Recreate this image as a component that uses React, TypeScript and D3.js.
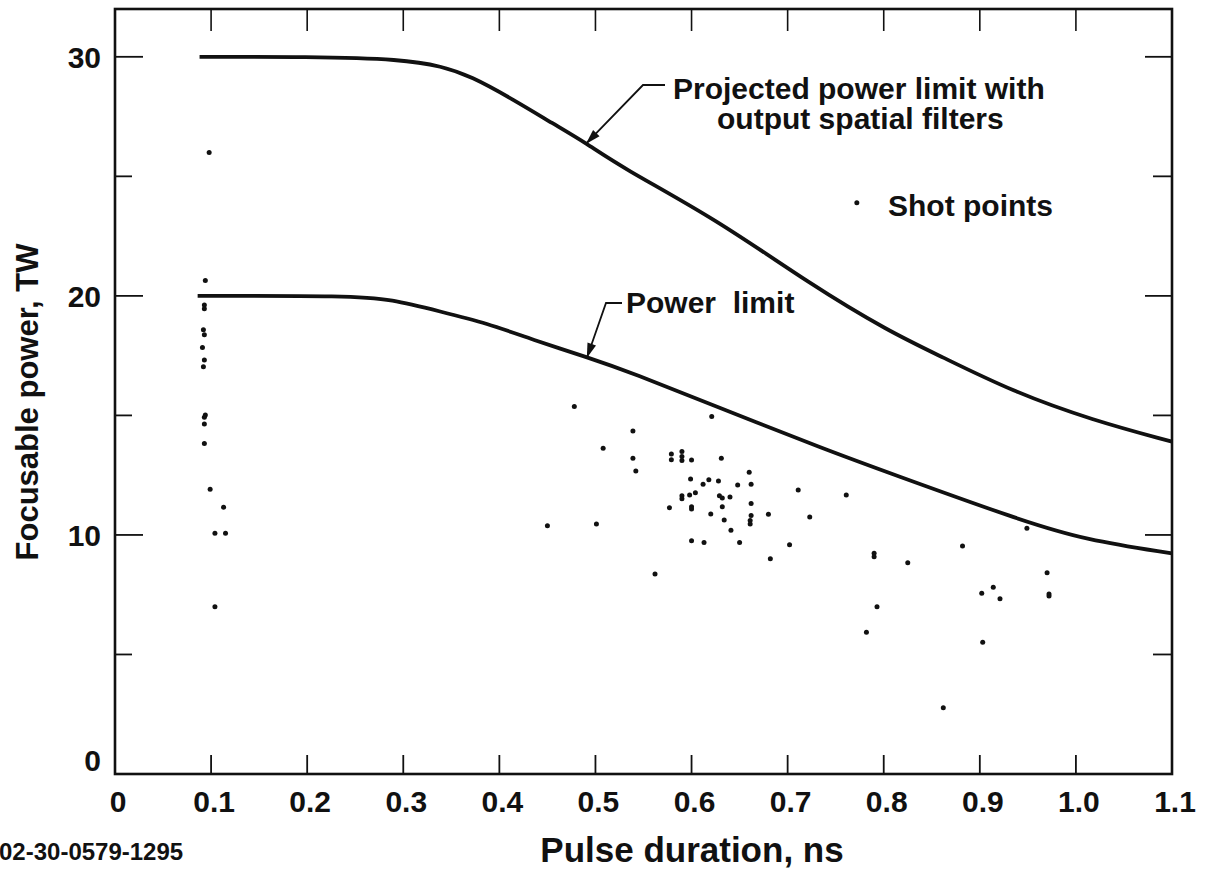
import React from "react";
import * as d3 from "d3";

// ---- data ----
const xTickValues = [0, 0.1, 0.2, 0.3, 0.4, 0.5, 0.6, 0.7, 0.8, 0.9, 1.0, 1.1];
const xTickLabels = ["0", "0.1", "0.2", "0.3", "0.4", "0.5", "0.6", "0.7", "0.8", "0.9", "1.0", "1.1"];
const yMajorTicks = [0, 10, 20, 30];
const yMajorLabels = ["0", "10", "20", "30"];
const yMinorTicks = [5, 15, 25];

// Projected power limit with output spatial filters
const upperX = [0.088, 0.2, 0.3, 0.34, 0.37, 0.415, 0.456, 0.49, 0.526, 0.626, 0.723, 0.806, 0.858, 0.934, 1.017, 1.1];
const upperY = [30, 30, 29.9, 29.6, 29.2, 28.2, 27.2, 26.4, 25.4, 23.2, 20.5, 18.5, 17.5, 16.0, 14.8, 13.9];

// Power limit
const lowerX = [0.086, 0.245, 0.287, 0.339, 0.387, 0.435, 0.491, 0.539, 0.626, 0.74, 0.806, 0.941, 1.01, 1.1];
const lowerY = [20, 20, 19.86, 19.34, 18.86, 18.16, 17.44, 16.77, 15.37, 13.56, 12.59, 10.63, 9.79, 9.23];

// Shot points
const shotX = [
  0.098, 0.094, 0.093, 0.093, 0.092, 0.093, 0.091, 0.093, 0.092, 0.094, 0.093, 0.093, 0.093, 0.099, 0.113, 0.104, 0.115, 0.104,
  0.478, 0.539, 0.508, 0.539, 0.542, 0.621, 0.579, 0.579, 0.59, 0.59, 0.59, 0.6, 0.631, 0.599, 0.612, 0.618, 0.628, 0.648,
  0.59, 0.59, 0.598, 0.604, 0.629, 0.632, 0.64, 0.577, 0.6, 0.6, 0.632, 0.62, 0.634, 0.641, 0.6, 0.613, 0.65, 0.45, 0.501, 0.562,
  0.66, 0.662, 0.662, 0.662, 0.661, 0.661, 0.68, 0.711, 0.761, 0.723, 0.702, 0.682, 0.79, 0.79, 0.825, 0.882, 0.949, 0.793,
  0.782, 0.903, 0.97, 0.902, 0.914, 0.921, 0.972, 0.972, 0.862,
];
const shotY = [
  26.0, 20.64, 19.62, 19.46, 18.58, 18.37, 17.84, 17.32, 17.04, 15.02, 14.92, 14.64, 13.82, 11.91, 11.16, 10.07, 10.07, 7.0,
  15.37, 14.35, 13.63, 13.21, 12.67, 14.95, 13.39, 13.14, 13.49, 13.28, 13.11, 13.13, 13.21, 12.34, 12.12, 12.31, 12.26, 12.09,
  11.64, 11.51, 11.67, 11.76, 11.64, 11.54, 11.59, 11.14, 11.18, 11.09, 11.18, 10.88, 10.63, 10.2, 9.76, 9.68, 9.68, 10.38, 10.46, 8.37,
  12.62, 12.12, 11.31, 10.81, 10.6, 10.46, 10.87, 11.88, 11.67, 10.75, 9.59, 9.0, 9.23, 9.09, 8.84, 9.54, 10.28, 7.0,
  5.93, 5.51, 8.42, 7.56, 7.81, 7.33, 7.53, 7.45, 2.77,
];

const W = 1206;
const H = 882;
const FONT = "'Liberation Sans', Arial, Helvetica, sans-serif";
const INK = "#111";

export default function App() {
  const x = d3.scaleLinear().domain([0, 1.1]).range([115, 1172]);
  const y = d3.scaleLinear().domain([0, 32]).range([774, 9]);

  const line = d3
    .line<[number, number]>()
    .x((d) => x(d[0]))
    .y((d) => y(d[1]))
    .curve(d3.curveBasis);

  const upper = upperX.map((v, i) => [v, upperY[i]] as [number, number]);
  const lower = lowerX.map((v, i) => [v, lowerY[i]] as [number, number]);

  const innerX = xTickValues.filter((v) => v > 0 && v < 1.1);

  const arrowHead = (tx: number, ty: number, fx: number, fy: number) => {
    const ang = Math.atan2(ty - fy, tx - fx);
    const len = 15;
    const half = 4.5;
    const bx = tx - len * Math.cos(ang);
    const by = ty - len * Math.sin(ang);
    const px = -Math.sin(ang) * half;
    const py = Math.cos(ang) * half;
    return `M${tx},${ty}L${bx + px},${by + py}L${bx - px},${by - py}Z`;
  };

  const projTip = [x(0.49), y(26.4) + 1];
  const projKnee = [643, 85];
  const powTip = [x(0.491), y(17.44) + 1];
  const powKnee = [606, 303];

  return (
    <svg
      width={W}
      height={H}
      viewBox={`0 0 ${W} ${H}`}
      style={{ position: "absolute", left: 0, top: 0, background: "#fff" }}
      fontFamily={FONT}
      fontWeight="bold"
    >
      <rect x={0} y={0} width={W} height={H} fill="#fff" />
      {/* frame */}
      <rect
        x={x(0)}
        y={y(32)}
        width={x(1.1) - x(0)}
        height={y(0) - y(32)}
        fill="none"
        stroke={INK}
        strokeWidth={2.6}
      />
      {/* x ticks (bottom and top, inward) */}
      {innerX.map((v) => (
        <g key={"xt" + v}>
          <line x1={x(v)} x2={x(v)} y1={y(0)} y2={y(0) - 19} stroke={INK} strokeWidth={1.8} />
          <line x1={x(v)} x2={x(v)} y1={y(32)} y2={y(32) + 22} stroke={INK} strokeWidth={1.6} />
        </g>
      ))}
      {/* y ticks left and right */}
      {yMajorTicks
        .filter((v) => v > 0)
        .map((v) => (
          <g key={"ym" + v}>
            <line x1={x(0)} x2={x(0) + 28} y1={y(v)} y2={y(v)} stroke={INK} strokeWidth={1.8} />
            <line x1={x(1.1)} x2={x(1.1) - 27} y1={y(v)} y2={y(v)} stroke={INK} strokeWidth={1.8} />
          </g>
        ))}
      {yMinorTicks.map((v) => (
        <g key={"yn" + v}>
          <line x1={x(0)} x2={x(0) + 17} y1={y(v)} y2={y(v)} stroke={INK} strokeWidth={1.8} />
          <line x1={x(1.1)} x2={x(1.1) - 19} y1={y(v)} y2={y(v)} stroke={INK} strokeWidth={1.8} />
        </g>
      ))}
      {/* tick labels */}
      {xTickValues.map((v, i) => (
        <text key={"xl" + v} x={x(v) + 3} y={812} textAnchor="middle" fontSize={30} fill={INK}>
          {xTickLabels[i]}
        </text>
      ))}
      {yMajorTicks.map((v, i) => (
        <text
          key={"yl" + v}
          x={101}
          y={v === 0 ? y(v) - 14 : y(v)}
          dy="0.36em"
          textAnchor="end"
          fontSize={30}
          fill={INK}
        >
          {yMajorLabels[i]}
        </text>
      ))}
      {/* axis titles */}
      <text x={692} y={862} textAnchor="middle" fontSize={35} fill={INK}>
        Pulse duration, ns
      </text>
      <text transform={`translate(38,402) rotate(-90)`} textAnchor="middle" fontSize={31} fill={INK}>
        Focusable power, TW
      </text>
      <text x={-1} y={860} fontSize={24} fill={INK}>
        02-30-0579-1295
      </text>

      {/* curves */}
      <path d={line(upper) || ""} fill="none" stroke={INK} strokeWidth={3.8} />
      <path d={line(lower) || ""} fill="none" stroke={INK} strokeWidth={3.8} />

      {/* shot points */}
      {shotX.map((v, i) => (
        <circle key={"s" + i} cx={x(v)} cy={y(shotY[i])} r={2.5} fill={INK} />
      ))}

      {/* annotations */}
      <path
        d={`M${projKnee[0] + 22},${projKnee[1]}L${projKnee[0]},${projKnee[1]}L${projTip[0]},${projTip[1]}`}
        fill="none"
        stroke={INK}
        strokeWidth={1.8}
      />
      <path d={arrowHead(projTip[0], projTip[1], projKnee[0], projKnee[1])} fill={INK} />
      <text x={673} y={88} dy="0.36em" fontSize={30} fill={INK}>
        Projected power limit with
      </text>
      <text x={717} y={118} dy="0.36em" fontSize={30} fill={INK}>
        output spatial filters
      </text>

      <path
        d={`M${powKnee[0] + 16},${powKnee[1]}L${powKnee[0]},${powKnee[1]}L${powTip[0]},${powTip[1]}`}
        fill="none"
        stroke={INK}
        strokeWidth={1.8}
      />
      <path d={arrowHead(powTip[0], powTip[1], powKnee[0], powKnee[1])} fill={INK} />
      <text x={626} y={302} dy="0.36em" fontSize={30} fill={INK} style={{ whiteSpace: "pre" }}>
        {"Power  limit"}
      </text>

      <circle cx={x(0.772)} cy={y(23.9)} r={2.5} fill={INK} />
      <text x={888} y={205} dy="0.36em" fontSize={30} fill={INK}>
        Shot points
      </text>
    </svg>
  );
}
